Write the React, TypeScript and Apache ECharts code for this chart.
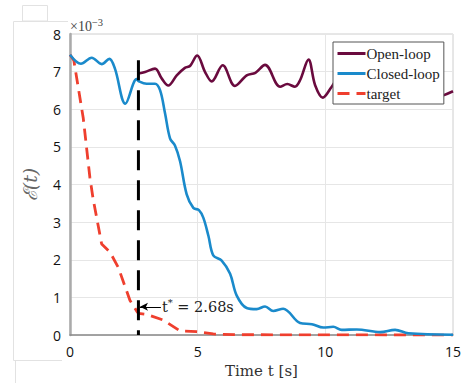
import React, { useEffect, useRef } from "react";
import * as echarts from "echarts";

const openLoopT = [2.68, 2.94, 3.33, 3.59, 3.85, 4.18, 4.5, 4.7, 4.98, 5.29, 5.55, 5.98, 6.46, 6.92, 7.26, 7.64, 8.23, 8.51, 8.81, 9.01, 9.34, 9.6, 9.9, 10.25, 10.6, 11.0, 11.5, 12.0, 12.5, 13.0, 13.5, 14.0, 14.3, 14.62, 15];
const openLoopV = [6.95, 6.99, 7.08, 6.82, 6.63, 6.9, 7.1, 7.15, 7.43, 6.99, 6.74, 7.17, 6.62, 6.9, 6.97, 7.18, 6.6, 6.67, 6.6, 6.77, 7.32, 6.64, 6.31, 6.6, 6.9, 6.7, 7.0, 6.6, 6.9, 6.7, 6.9, 6.5, 6.31, 6.37, 6.48];

const closedLoopT = [0, 0.43, 0.85, 1.24, 1.54, 1.76, 2.17, 2.61, 2.68, 3.0, 3.33, 3.53, 3.72, 3.92, 4.11, 4.31, 4.57, 4.83, 5.05, 5.22, 5.42, 5.61, 5.94, 6.27, 6.53, 6.92, 7.31, 7.64, 7.96, 8.35, 9.01, 9.47, 9.92, 10.31, 10.64, 11.23, 12.15, 12.73, 13.25, 15];
const closedLoopV = [7.45, 7.21, 7.37, 7.2, 7.34, 7.08, 6.15, 6.8, 6.75, 6.68, 6.68, 6.5, 5.9, 5.22, 5.04, 4.62, 3.74, 3.38, 3.32, 3.12, 2.64, 2.12, 1.98, 1.63, 1.05, 0.72, 0.69, 0.76, 0.64, 0.7, 0.32, 0.29, 0.2, 0.22, 0.14, 0.15, 0.08, 0.14, 0.05, 0.01];

const targetT = [0, 0.15, 0.52, 0.78, 0.91, 1.24, 1.57, 1.89, 2.35, 2.61, 2.68, 3.0, 3.65, 4.31, 4.96, 5.61, 6.5, 15];
const targetV = [7.45, 7.3, 5.76, 4.18, 3.6, 2.42, 2.2, 1.8, 0.92, 0.64, 0.58, 0.55, 0.4, 0.11, 0.09, 0.03, 0.01, 0.0];

const tStar = 2.68;
const tStarTop = 7.3;
const arrowY = 0.75;
const arrowFrom = 3.56;
const arrowTo = 2.74;

const xTicks = [0, 5, 10, 15];
const yTicks = [0, 1, 2, 3, 4, 5, 6, 7, 8];
const legendNames = ["Open-loop", "Closed-loop", "target"];

const zip = (t: number[], v: number[]) => t.map((x, i) => [x, v[i]]);

export default function App() {
  const ref = useRef<HTMLDivElement>(null);
  useEffect(() => {
    const chart = echarts.init(ref.current!, null, { renderer: "svg" });
    const serif = "DejaVu Serif";
    const serif2 = "Liberation Serif";
    chart.setOption({
      animation: false,
      backgroundColor: "#fff",
      grid: {
        left: 70,
        right: 14,
        top: 34,
        bottom: 45,
        show: true,
        borderColor: "#cfcfcf",
        borderWidth: 1,
      },
      legend: {
        data: legendNames.map((n) => ({ name: n, itemStyle: { opacity: 0 }, lineStyle: { width: 3 } })),
        orient: "vertical",
        left: 333,
        top: 42,
        z: 20,
        itemWidth: 28,
        itemHeight: 10,
        itemGap: 5,
        padding: [4, 4, 3, 3],
        backgroundColor: "#fff",
        borderColor: "#555",
        borderWidth: 1,
        borderRadius: 0,
        textStyle: { fontFamily: serif2, fontSize: 15, color: "#222", padding: [0, 0, 0, -4] },
      },
      xAxis: {
        type: "value",
        min: 0,
        max: 15,
        interval: 5,
        name: "Time t [s]",
        nameLocation: "middle",
        nameGap: 26,
        nameTextStyle: { fontFamily: serif, fontSize: 15, color: "#333" },
        axisLine: { lineStyle: { color: "#8a8a8a", width: 1.5 } },
        axisTick: { show: false },
        axisLabel: {
          fontFamily: "Open Sans",
          fontSize: 14,
          color: "#111",
          margin: 9,
          formatter: (v: number) => (xTicks.includes(v) ? String(v) : ""),
        },
        splitLine: { show: true, lineStyle: { color: "#e6e6e6", width: 1 } },
      },
      yAxis: {
        type: "value",
        min: 0,
        max: 8,
        interval: 1,
        name: "ℰ(t)",
        nameLocation: "middle",
        nameGap: 31,
        nameRotate: 90,
        nameTextStyle: { fontFamily: serif, fontStyle: "italic", fontSize: 19, color: "#666" },
        axisLine: { show: true, lineStyle: { color: "#aaaaaa", width: 2.5 } },
        axisTick: { show: false },
        axisLabel: {
          fontFamily: "Open Sans",
          fontSize: 14,
          color: "#111",
          margin: 9,
          formatter: (v: number) => (yTicks.includes(v) ? String(v) : ""),
        },
        splitLine: { show: true, lineStyle: { color: "#e6e6e6", width: 1 } },
      },
      series: [
        {
          name: "target",
          type: "line",
          data: zip(targetT, targetV),
          symbol: "none",
          smooth: false,
          lineStyle: { color: "#ef3f2e", width: 2.8, type: [12, 7] },
          itemStyle: { color: "#ef3f2e" },
          z: 2,
        },
        {
          name: "Closed-loop",
          type: "line",
          data: zip(closedLoopT, closedLoopV),
          symbol: "none",
          smooth: 0.35,
          lineStyle: { color: "#1a8acb", width: 2.6 },
          itemStyle: { color: "#1a8acb" },
          z: 2,
        },
        {
          name: "Open-loop",
          type: "line",
          data: zip(openLoopT, openLoopV),
          symbol: "none",
          smooth: 0.35,
          lineStyle: { color: "#6a0a3e", width: 2.6 },
          itemStyle: { color: "#6a0a3e" },
          z: 2,
        },
        {
          name: "tstar",
          type: "line",
          data: [[tStar, tStarTop], [tStar, 0]],
          symbol: "none",
          lineStyle: { color: "#000", width: 3, type: [20, 10] },
          z: 3,
          markLine: {
            silent: true,
            symbol: ["none", "arrow"],
            symbolSize: [6, 8],
            lineStyle: { color: "#000", width: 1, type: "solid" },
            label: { show: false },
            data: [[{ coord: [arrowFrom, arrowY] }, { coord: [arrowTo, arrowY] }]],
          },
          markPoint: {
            silent: true,
            symbol: "circle",
            symbolSize: 0,
            data: [{ coord: [arrowFrom, arrowY] }],
            label: {
              show: true,
              position: "right",
              distance: 1,
              formatter: "{a|t}{s|*}{a| = 2.68s}",
              rich: {
                a: { fontFamily: serif, fontSize: 14.5, color: "#222" },
                s: { fontFamily: serif, fontSize: 10, color: "#222", verticalAlign: "top", padding: [0, 0, 8, 0] },
              },
            },
          },
        },
      ],
      graphic: [
        {
          type: "text",
          left: 70,
          top: 17,
          style: {
            text: "×10{s|−3}",
            rich: { s: { fontFamily: serif2, fontSize: 10.5, color: "#444", padding: [0, 0, 7, 0] } },
            fontFamily: serif2,
            fontSize: 14,
            fill: "#444",
          },
        },
        { type: "rect", shape: { x: 22.5, y: 5.5, width: 25, height: 15.5 }, style: { fill: "none", stroke: "#e2e2e2", lineWidth: 1 }, z: -1 },
        { type: "polyline", shape: { points: [[68, 21.5], [13.5, 21.5], [13.5, 360.5], [62, 360.5]] }, style: { fill: "none", stroke: "#e2e2e2", lineWidth: 1 }, z: -1 },
        { type: "polyline", shape: { points: [[15.5, 383], [15.5, 361]] }, style: { fill: "none", stroke: "#e2e2e2", lineWidth: 1 }, z: -1 },
      ],
    });
    return () => chart.dispose();
  }, []);
  return <div ref={ref} style={{ position: "fixed", left: 0, top: 0, width: 467, height: 383 }} />;
}
